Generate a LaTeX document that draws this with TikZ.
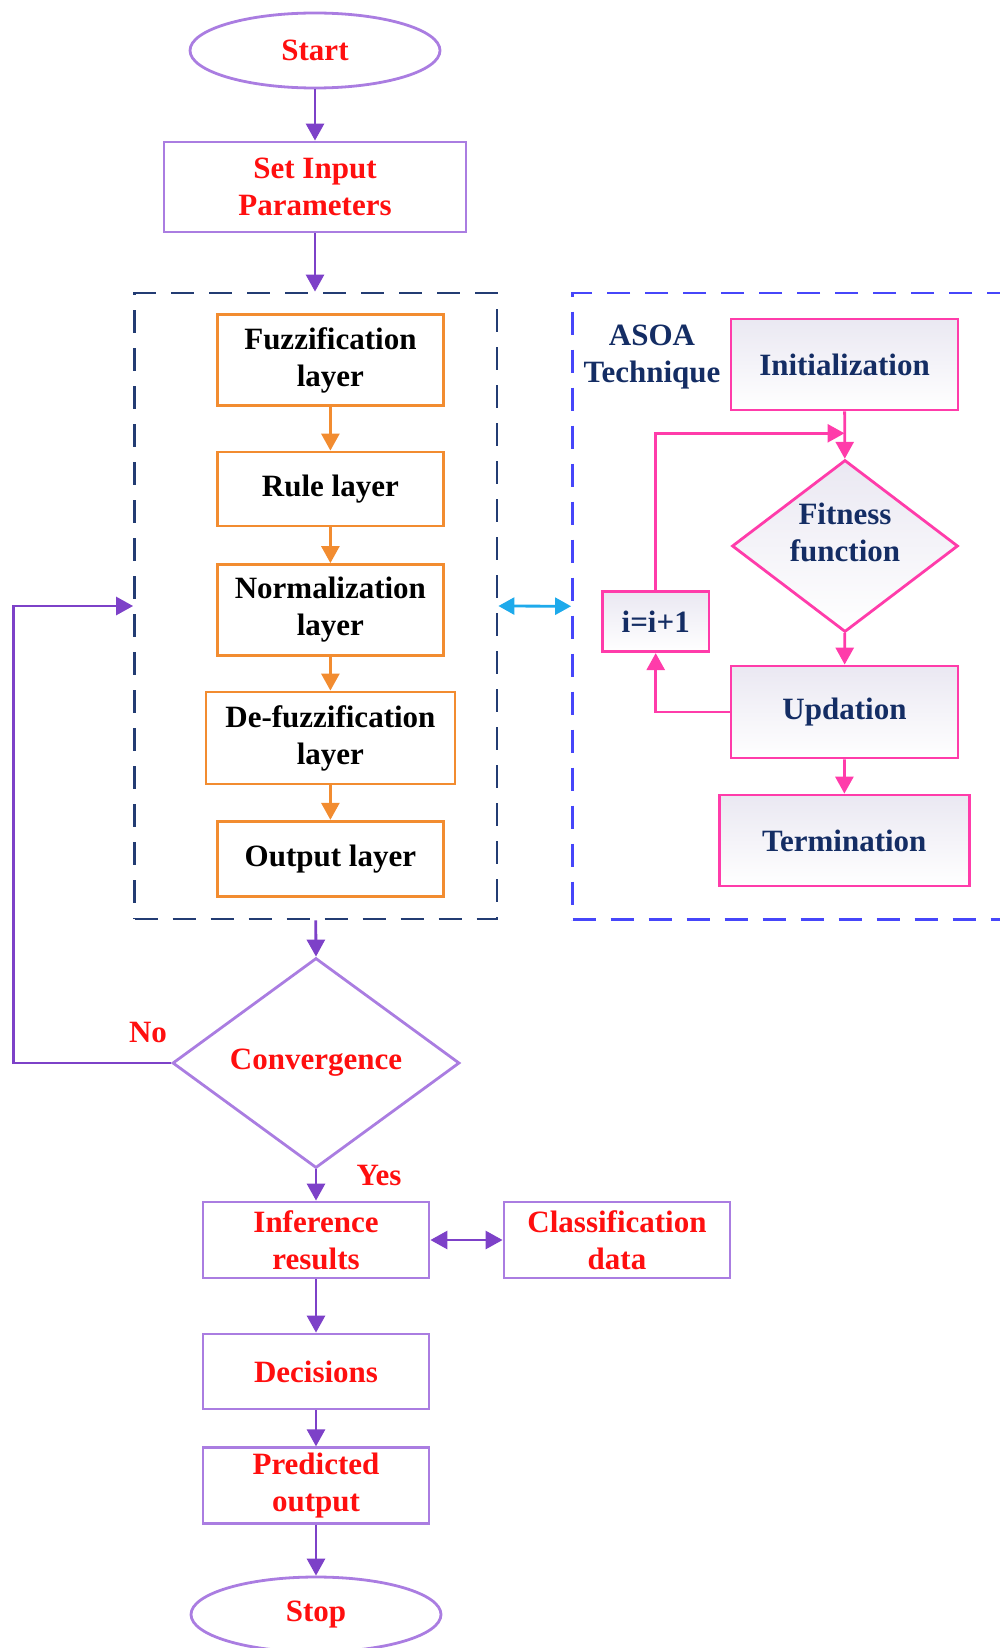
\documentclass[tikz,border=0pt]{standalone}
\usepackage{fontspec}
\setmainfont{Liberation Serif}
\usetikzlibrary{shapes.geometric,arrows.meta}

\definecolor{flowpurple}{RGB}{125,65,200}
\definecolor{boxpurple}{RGB}{170,125,225}
\definecolor{flowred}{RGB}{255,15,15}
\definecolor{navydash}{RGB}{35,60,115}
\definecolor{bluedash}{RGB}{70,70,250}
\definecolor{layerorange}{RGB}{242,140,48}
\definecolor{asoapink}{RGB}{255,60,170}
\definecolor{asoatext}{RGB}{20,45,100}
\definecolor{asoafill}{RGB}{234,232,242}
\definecolor{linkcyan}{RGB}{30,170,235}

\tikzset{
  base/.style={font=\fontsize{31}{37}\selectfont\bfseries, align=center,
    inner sep=0pt, line width=2.8pt},
  mainbox/.style={base, rectangle, draw=boxpurple, text=flowred,
    minimum width=226pt},
  terminal/.style={base, ellipse, draw=boxpurple, text=flowred,
    minimum width=250pt, minimum height=75pt},
  decision/.style={base, diamond, draw=boxpurple, text=flowred},
  layerbox/.style={base, rectangle, draw=layerorange, text=black,
    minimum width=226pt},
  asoabox/.style={base, rectangle, draw=asoapink, text=asoatext,
    top color=asoafill, bottom color=white, minimum width=227pt,
    minimum height=91pt},
  frame/.style={rectangle, line width=2.8pt, dash pattern=on 23pt off 15pt},
  flow/.style={draw=flowpurple, line width=2.8pt, -{Triangle[length=17pt,width=18pt]}},
  layerflow/.style={draw=layerorange, line width=2.8pt, -{Triangle[length=17pt,width=18pt]}},
  asoaflow/.style={draw=asoapink, line width=2.8pt, -{Triangle[length=17pt,width=18pt]}},
  lbl/.style={font=\fontsize{31}{37}\selectfont\bfseries, inner sep=0pt},
}

\begin{document}
\begin{tikzpicture}[x=1pt,y=-1pt]
\useasboundingbox (0,0) rectangle (999,1648);

% main flow, upper part
\node[terminal] (start) at (315,50.5) {Start};
\node[mainbox, minimum width=302pt, minimum height=90pt] (setin) at (315,187)
  {Set Input\\Parameters};

% fuzzy inference system frame
\node[frame, draw=navydash, minimum width=362.5pt, minimum height=626pt]
  (fis) at (315.75,606) {};
\node[layerbox, minimum height=90.5pt] (fuzz) at (330.4,360) {Fuzzification\\layer};
\node[layerbox, minimum height=74pt] (rule) at (330.4,489) {Rule layer};
\node[layerbox, minimum height=91pt] (norm) at (330.4,610) {Normalization\\layer};
\node[layerbox, minimum width=249pt, minimum height=92pt] (defuzz) at (330.4,738)
  {De-fuzzification\\layer};
\node[layerbox, minimum height=75.5pt] (outl) at (330.4,859) {Output layer};

% ASOA optimisation frame
\node[frame, draw=bluedash, minimum width=437.5pt, minimum height=626.5pt]
  (asoa) at (791.25,606.25) {};
\node[lbl, text=asoatext, align=center] (asoatitle) at (652,357) {ASOA\\Technique};
\node[asoabox] (init) at (844.5,364.5) {Initialization};
\node[base, diamond, draw=asoapink, top color=asoafill, bottom color=white,
  minimum width=226pt, minimum height=172pt] (fit) at (845,546) {};
\node[lbl, text=asoatext, align=center] (fittext) at (845,532) {Fitness\\function};
\node[asoabox, minimum height=92pt] (upd) at (844.5,712) {Updation};
\node[asoabox, minimum width=250pt] (term) at (844.3,840.5) {Termination};
\node[asoabox, minimum width=106.6pt, minimum height=60pt] (inc) at (655.7,621.7)
  {i=i+1};
\coordinate (loopin) at (844.5,433.3);

% convergence test and lower part
\node[decision, minimum width=287pt, minimum height=210pt] (conv) at (316,1063)
  {Convergence};
\node[lbl, text=flowred] (nolbl) at (148,1032) {No};
\node[lbl, text=flowred] (yeslbl) at (379,1175) {Yes};
\node[mainbox, minimum height=76pt] (infer) at (316,1240) {Inference\\results};
\node[mainbox, minimum height=76pt] (classd) at (617,1240) {Classification\\data};
\node[mainbox, minimum height=75pt] (decis) at (316,1371.5) {Decisions};
\node[mainbox, minimum height=75.5pt] (pred) at (316,1485.5) {Predicted\\output};
\node[terminal] (stop) at (316,1614.5) {Stop};
\coordinate (fbtop) at (13.6,606);

% connectors
\draw[flow] (start) -- (setin);
\draw[flow] (setin) -- (fis.north -| setin);
\draw[layerflow] (fuzz) -- (rule);
\draw[layerflow] (rule) -- (norm);
\draw[layerflow] (norm) -- (defuzz);
\draw[layerflow] (defuzz) -- (outl);
\draw[draw=linkcyan, line width=2.8pt, {Triangle[length=16pt,width=17pt]}-{Triangle[length=16pt,width=17pt]}]
  (fis.east) -- (asoa.west);
\draw[asoaflow] (init) -- (fit);
\draw[asoaflow] (inc.north) |- (loopin);
\draw[asoaflow] (fit) -- (upd);
\draw[asoaflow] (upd.west) -| (inc.south);
\draw[asoaflow] (upd) -- (term);
\draw[flow] (fis.south) -- (conv.north);
\draw[flow] (conv.west) -| (fbtop) -- (fis.west);
\draw[flow] (conv) -- (infer);
\draw[draw=flowpurple, line width=2.8pt, {Triangle[length=17pt,width=18pt]}-{Triangle[length=17pt,width=18pt]}]
  (infer) -- (classd);
\draw[flow] (infer) -- (decis);
\draw[flow] (decis) -- (pred);
\draw[flow] (pred) -- (stop);
\end{tikzpicture}
\end{document}
